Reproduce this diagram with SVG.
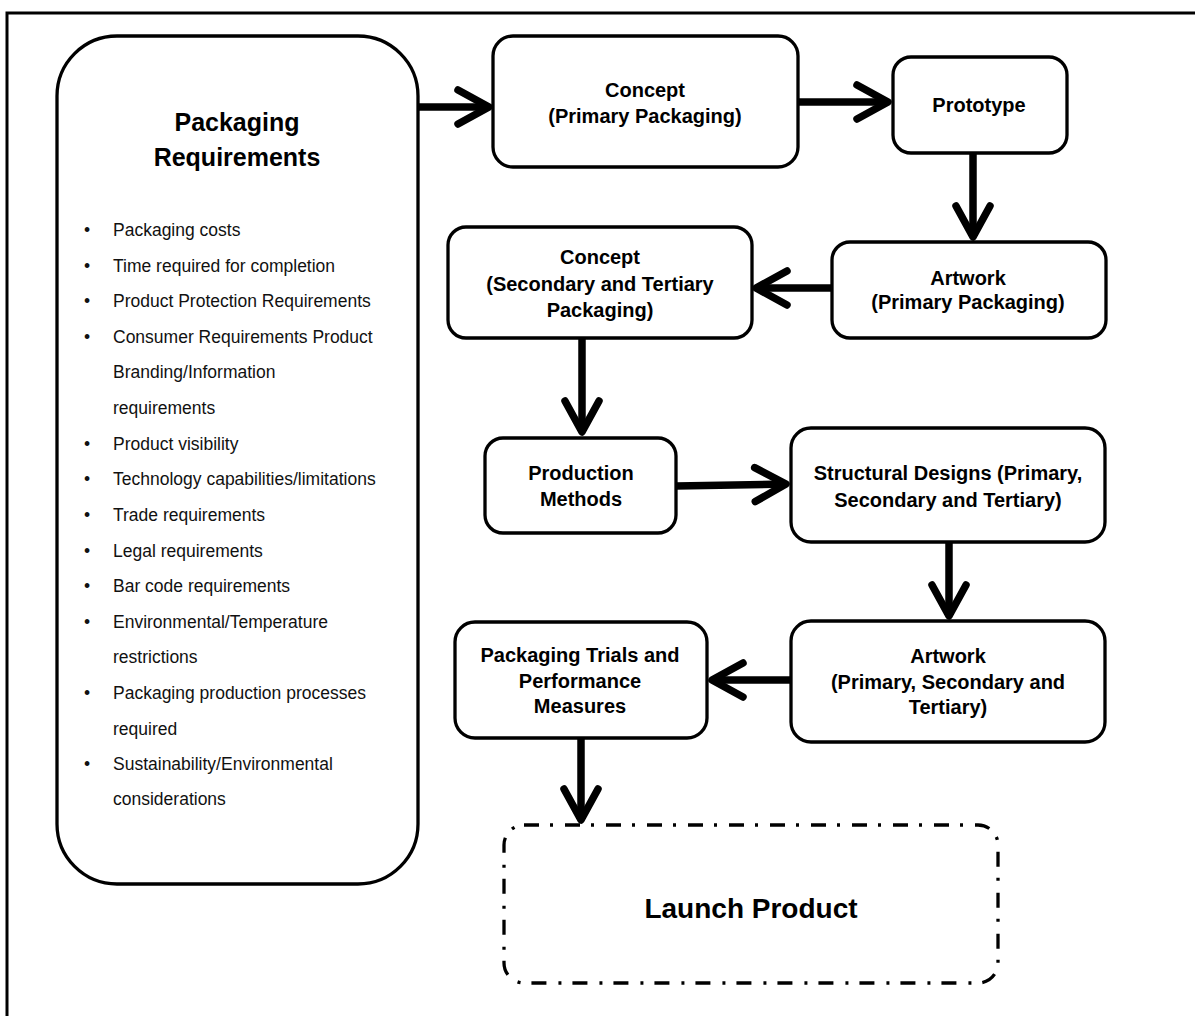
<svg xmlns="http://www.w3.org/2000/svg" width="1195" height="1016" viewBox="0 0 1195 1016">
<style>
.frame{fill:none;stroke:#000;stroke-width:3}
.box{fill:#fff;stroke:#000;stroke-width:3.3}
.dashbox{fill:#fff;stroke:#000;stroke-width:3.3;stroke-dasharray:15 11 3 12}
.t{font-family:"Liberation Sans",Arial,sans-serif;font-weight:bold;font-size:20px;fill:#000;text-anchor:middle}
.title{font-family:"Liberation Sans",Arial,sans-serif;font-weight:bold;font-size:25px;fill:#000;text-anchor:middle}
.launch{font-family:"Liberation Sans",Arial,sans-serif;font-weight:bold;font-size:28px;fill:#000;text-anchor:middle}
.li{font-family:"Liberation Sans",Arial,sans-serif;font-size:17.5px;fill:#111}
.conn{fill:none;stroke:#000;stroke-width:7.5;marker-end:url(#chev)}
</style>
<defs>
<marker id="chev" markerUnits="userSpaceOnUse" markerWidth="40" markerHeight="40" refX="0" refY="0" orient="auto" overflow="visible">
<path d="M-31,-17 L0,0 L-31,17" fill="none" stroke="#000" stroke-width="7.5" stroke-linecap="round" stroke-linejoin="round"/>
</marker>
</defs>
<rect class="frame" x="7" y="13" width="1200" height="1020"/>

<g id="connectors">
<path class="conn" d="M418,107 L489,107"/>
<path class="conn" d="M798,102 L888,102"/>
<path class="conn" d="M973,153 L973,237"/>
<path class="conn" d="M832,288 L756,288"/>
<path class="conn" d="M582,338 L582,432"/>
<path class="conn" d="M676,486 L786,484"/>
<path class="conn" d="M949,542 L949,616"/>
<path class="conn" d="M791,680 L712,680"/>
<path class="conn" d="M581,738 L581,820"/>
</g>

<g id="packaging-requirements">
<rect class="box" x="57" y="36" width="361" height="848" rx="60" ry="60"/>
<text class="title" x="237" y="131">Packaging</text>
<text class="title" x="237" y="166">Requirements</text>
<g class="li">
<text x="84" y="236">•</text><text x="113" y="236">Packaging costs</text>
<text x="84" y="272">•</text><text x="113" y="272">Time required for completion</text>
<text x="84" y="307">•</text><text x="113" y="307">Product Protection Requirements</text>
<text x="84" y="343">•</text><text x="113" y="343">Consumer Requirements Product</text>
<text x="113" y="378">Branding/Information</text>
<text x="113" y="414">requirements</text>
<text x="84" y="450">•</text><text x="113" y="450">Product visibility</text>
<text x="84" y="485">•</text><text x="113" y="485">Technology capabilities/limitations</text>
<text x="84" y="521">•</text><text x="113" y="521">Trade requirements</text>
<text x="84" y="557">•</text><text x="113" y="557">Legal requirements</text>
<text x="84" y="592">•</text><text x="113" y="592">Bar code requirements</text>
<text x="84" y="628">•</text><text x="113" y="628">Environmental/Temperature</text>
<text x="113" y="663">restrictions</text>
<text x="84" y="699">•</text><text x="113" y="699">Packaging production processes</text>
<text x="113" y="735">required</text>
<text x="84" y="770">•</text><text x="113" y="770">Sustainability/Environmental</text>
<text x="113" y="805">considerations</text>
</g>
</g>

<g id="concept-primary">
<rect class="box" x="493" y="36" width="305" height="131" rx="20" ry="20"/>
<text class="t" x="645" y="97">Concept</text>
<text class="t" x="645" y="123">(Primary Packaging)</text>
</g>

<g id="prototype">
<rect class="box" x="893" y="57" width="174" height="96" rx="18" ry="18"/>
<text class="t" x="979" y="112">Prototype</text>
</g>

<g id="artwork-primary">
<rect class="box" x="832" y="242" width="274" height="96" rx="18" ry="18"/>
<text class="t" x="968" y="285">Artwork</text>
<text class="t" x="968" y="309">(Primary Packaging)</text>
</g>

<g id="concept-secondary">
<rect class="box" x="448" y="227" width="304" height="111" rx="18" ry="18"/>
<text class="t" x="600" y="264">Concept</text>
<text class="t" x="600" y="291">(Secondary and Tertiary</text>
<text class="t" x="600" y="317">Packaging)</text>
</g>

<g id="production-methods">
<rect class="box" x="485" y="438" width="191" height="95" rx="18" ry="18"/>
<text class="t" x="581" y="480">Production</text>
<text class="t" x="581" y="506">Methods</text>
</g>

<g id="structural-designs">
<rect class="box" x="791" y="428" width="314" height="114" rx="20" ry="20"/>
<text class="t" x="948" y="480">Structural Designs (Primary,</text>
<text class="t" x="948" y="507">Secondary and Tertiary)</text>
</g>

<g id="artwork-all">
<rect class="box" x="791" y="621" width="314" height="121" rx="20" ry="20"/>
<text class="t" x="948" y="663">Artwork</text>
<text class="t" x="948" y="689">(Primary, Secondary and</text>
<text class="t" x="948" y="714">Tertiary)</text>
</g>

<g id="packaging-trials">
<rect class="box" x="455" y="622" width="252" height="116" rx="20" ry="20"/>
<text class="t" x="580" y="662">Packaging Trials and</text>
<text class="t" x="580" y="688">Performance</text>
<text class="t" x="580" y="713">Measures</text>
</g>

<g id="launch-product">
<rect class="dashbox" x="504" y="825" width="494" height="158" rx="20" ry="20"/>
<text class="launch" x="751" y="918">Launch Product</text>
</g>
</svg>
